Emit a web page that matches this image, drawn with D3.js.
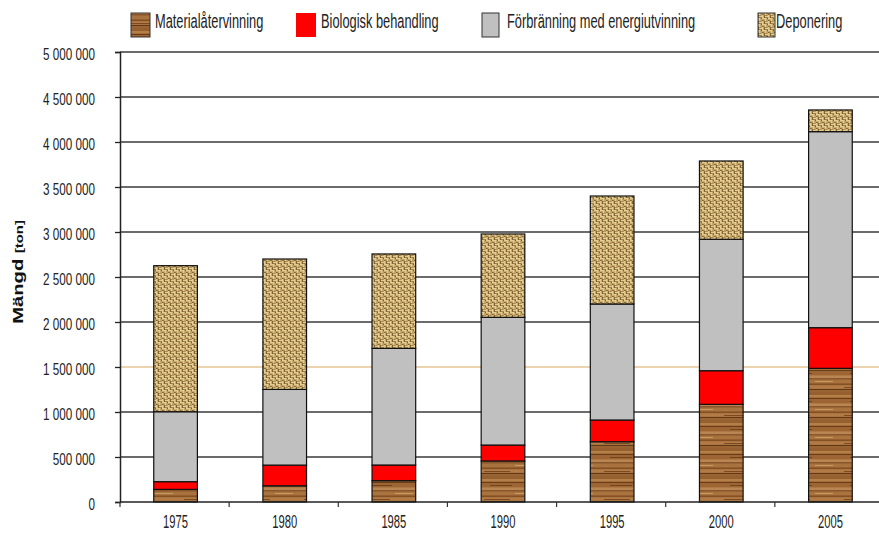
<!DOCTYPE html>
<html>
<head>
<meta charset="utf-8">
<script src="https://cdn.jsdelivr.net/npm/d3@7/dist/d3.min.js"></script>
<style>
  html, body { margin: 0; padding: 0; background: #fff; }
  svg { display: block; }
  text { font-family: "Liberation Sans", Arial, sans-serif; fill: #222; }
</style>
</head>
<body>
<svg id="chart" width="879" height="534"></svg>
<script>
// Avfall per behandlingsmetod, ton
const years = ["1975", "1980", "1985", "1990", "1995", "2000", "2005"];
const materialatervinning = [140000, 180000, 237000, 456000, 670000, 1085000, 1485000];
const biologisk = [86000, 230000, 174000, 177000, 241000, 374000, 452000];
const forbranning = [777000, 841000, 1296000, 1419000, 1289000, 1460000, 2178000];
const deponering = [1623000, 1449000, 1049000, 926000, 1200000, 870000, 241000];
const seriesNames = ["Materialåtervinning", "Biologisk behandling", "Förbränning med energiutvinning", "Deponering"];
const yTicks = [0, 500000, 1000000, 1500000, 2000000, 2500000, 3000000, 3500000, 4000000, 4500000, 5000000];

const svg = d3.select("#chart");
const defs = svg.append("defs");

// Wood grain fill
const wood = defs.append("pattern").attr("id", "wood")
  .attr("patternUnits", "userSpaceOnUse").attr("width", 60).attr("height", 28);
wood.append("rect").attr("width", 60).attr("height", 28).attr("fill", "#a36c3a");
[[0, 3, "#94602f"], [3, 2, "#b57f48"], [6, 1.2, "#6a3d19"], [7.2, 4, "#9d6533"],
 [11.5, 2.5, "#b98550"], [14.5, 1, "#70421c"], [15.5, 3.5, "#a97340"], [19.5, 1.5, "#855024"],
 [21.5, 3, "#b27b45"], [25, 1, "#61381a"], [26, 2, "#9a6332"]].forEach(([y, h, c]) => {
  wood.append("rect").attr("x", 0).attr("y", y).attr("width", 60).attr("height", h).attr("fill", c);
});
wood.append("rect").attr("x", 10).attr("y", 9).attr("width", 22).attr("height", 1).attr("fill", "#74451d");
wood.append("rect").attr("x", 35).attr("y", 17).attr("width", 18).attr("height", 1).attr("fill", "#c99a60");
wood.append("rect").attr("x", 4).attr("y", 23).attr("width", 26).attr("height", 1).attr("fill", "#7a4a22");

// Woven burlap fill
const burlap = defs.append("pattern").attr("id", "burlap")
  .attr("patternUnits", "userSpaceOnUse").attr("width", 6).attr("height", 6);
burlap.append("rect").attr("width", 6).attr("height", 6).attr("fill", "#7f6232");
[[0, 0, 3, 1.7], [3, 0, 1.7, 3], [0, 3, 1.7, 3], [3, 3.6, 3, 1.7]].forEach(([x, y, w, h]) => {
  burlap.append("rect").attr("x", x).attr("y", y).attr("width", w).attr("height", h).attr("fill", "#e6cc8e");
});
[[1.7, 1.7, 1.3, 1.3], [4.7, 1.2, 1.3, 2.4]].forEach(([x, y, w, h]) => {
  burlap.append("rect").attr("x", x).attr("y", y).attr("width", w).attr("height", h).attr("fill", "#c3a462");
});

const fills = ["url(#wood)", "#ff0000", "#c0c0c0", "url(#burlap)"];

const x = d3.scaleBand().domain(years).range([121, 885]).paddingInner(0.6).paddingOuter(0.3);
const y = d3.scaleLinear().domain([0, 5000000]).range([502, 52]);

const fmt = d3.formatLocale({ decimal: ",", thousands: " ", grouping: [3], currency: ["", ""] }).format(",");

// Horizontal grid lines
svg.append("g").selectAll("line").data(yTicks.filter(d => d > 0)).join("line")
  .attr("x1", 120).attr("x2", 879)
  .attr("y1", d => y(d)).attr("y2", d => y(d))
  .attr("stroke", d => d === 1500000 ? "#e6c594" : "#3a3a3a")
  .attr("stroke-width", d => d === 1500000 ? 1.5 : 1.7);

// Stacked bars
const rows = years.map((yr, i) => ({
  year: yr,
  "Materialåtervinning": materialatervinning[i],
  "Biologisk behandling": biologisk[i],
  "Förbränning med energiutvinning": forbranning[i],
  "Deponering": deponering[i]
}));
const stacked = d3.stack().keys(seriesNames)(rows);

svg.append("g").selectAll("g").data(stacked).join("g")
  .attr("fill", (d, i) => fills[i])
  .selectAll("rect").data(d => d).join("rect")
  .attr("x", d => x(d.data.year))
  .attr("width", x.bandwidth())
  .attr("y", d => y(d[1]))
  .attr("height", d => y(d[0]) - y(d[1]))
  .attr("stroke", "#111").attr("stroke-width", 1.2);

// Y axis
const yAxis = svg.append("g").attr("transform", "translate(120,0)")
  .call(d3.axisLeft(y).tickValues(yTicks).tickFormat(fmt).tickSize(5));
yAxis.select(".domain").attr("stroke", "#222").attr("stroke-width", 1.5);
yAxis.selectAll(".tick line").attr("stroke", "#222").attr("stroke-width", 1.3);
yAxis.selectAll(".tick text")
  .attr("font-family", null).attr("x", 0).attr("dy", "0.36em")
  .style("font-size", "14px").attr("fill", "#2a2a2a")
  .attr("transform", "translate(-25,1) scale(0.835,1.23)");

// X axis
svg.append("line").attr("x1", 120).attr("x2", 879).attr("y1", 502).attr("y2", 502)
  .attr("stroke", "#222").attr("stroke-width", 1.5);
svg.append("g").selectAll("line").data(d3.range(years.length + 1)).join("line")
  .attr("x1", i => x.range()[0] - 1 + i * x.step()).attr("x2", i => x.range()[0] - 1 + i * x.step())
  .attr("y1", 502).attr("y2", 507).attr("stroke", "#333").attr("stroke-width", 1.2);
svg.append("g").selectAll("text").data(years).join("text")
  .attr("transform", d => `translate(${x(d) + x.bandwidth() / 2},528) scale(0.8,1.25)`)
  .attr("text-anchor", "middle").style("font-size", "14px").attr("fill", "#2a2a2a")
  .text(d => d);

// Y axis title
const yt = svg.append("text")
  .attr("transform", "translate(23,272) rotate(-90) scale(1.35,1)")
  .attr("text-anchor", "middle")
  .style("font-weight", "bold");
yt.append("tspan").style("font-size", "15px").attr("fill", "#111").text("Mängd ");
yt.append("tspan").style("font-size", "11px").attr("fill", "#111").text("[ton]");

// Legend
const legendItems = [
  { name: seriesNames[0], fill: fills[0], sx: 131, sw: 19, tx: 155 },
  { name: seriesNames[1], fill: fills[1], sx: 296, sw: 20, tx: 321 },
  { name: seriesNames[2], fill: fills[2], sx: 482, sw: 17, tx: 507 },
  { name: seriesNames[3], fill: fills[3], sx: 758, sw: 17, tx: 776 }
];
const lg = svg.append("g").selectAll("g").data(legendItems).join("g");
lg.append("rect")
  .attr("x", d => d.sx).attr("y", 13).attr("width", d => d.sw).attr("height", 24)
  .attr("fill", d => d.fill).attr("stroke", d => d.fill === "#ff0000" ? "none" : "#333").attr("stroke-width", 1);
lg.append("text")
  .attr("transform", d => `translate(${d.tx},28) scale(0.855,1.3)`)
  .style("font-size", "15px").attr("fill", "#1a1a1a")
  .text(d => d.name);
</script>
</body>
</html>
